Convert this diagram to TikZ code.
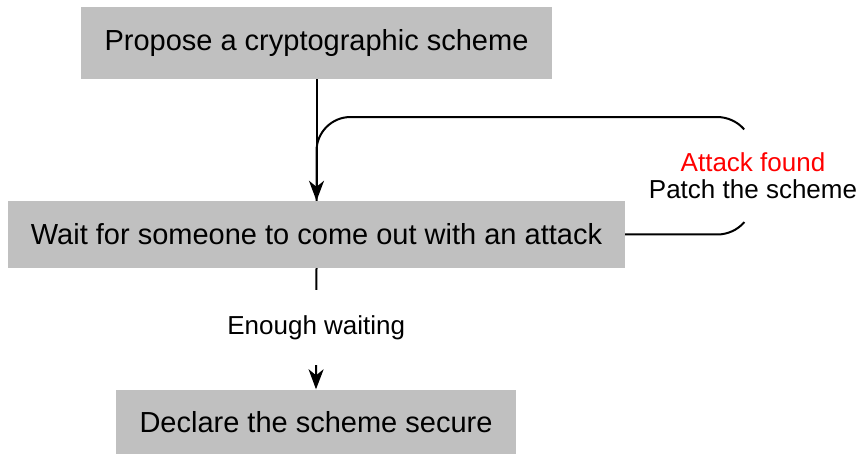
\documentclass[tikz,border=0pt]{standalone}
\usepackage{fontspec}
\setmainfont{Liberation Sans}
\usetikzlibrary{arrows.meta}
\definecolor{boxgray}{RGB}{192,192,192}
\tikzset{
  x=1pt, y=1pt,
  stepbox/.style={fill=boxgray, inner sep=0pt, text height=20.8pt,
    font=\fontsize{29pt}{34pt}\selectfont},
  edgelabel/.style={font=\fontsize{26pt}{26.6pt}\selectfont, inner sep=0pt},
  conn/.style={line width=2pt},
  arrowtip/.style={-{Stealth[length=20pt, width=15pt, inset=6pt]}}
}
\begin{document}
\begin{tikzpicture}
\useasboundingbox (0,0) rectangle (862,453);

% process steps
\node[stepbox, minimum width=471pt, minimum height=72pt, text depth=6.6pt]
  (propose) at (316.5,410) {Propose a cryptographic scheme};
\node[stepbox, minimum width=617pt, minimum height=67pt, text depth=1.6pt]
  (wait) at (316.5,218.5) {Wait for someone to come out with an attack};
\node[stepbox, minimum width=400pt, minimum height=68pt, text depth=3pt]
  (declare) at (316,29.5) {Declare the scheme secure};

% label of the feedback loop
\node[edgelabel, align=center] (patch) at (753,277.5)
  {\textcolor{red}{Attack found}\\Patch the scheme};
\coordinate (loopin) at (744.2,323.6);

% propose -> wait
\draw[conn, arrowtip] (propose.south) -- (wait.north);

% feedback loop: wait -> patch -> wait
\draw[conn] (wait.east) -- ++(92,0) arc[start angle=-90, end angle=-41, radius=36];
\draw[conn] (loopin) arc[start angle=41, end angle=90, radius=36]
  -- ++(-366.5,0) arc[start angle=90, end angle=180, radius=34] -- (wait.north);

% wait -> declare
\draw[conn, arrowtip] (wait.south) -- (declare.north)
  node[midway, edgelabel, fill=white, minimum width=200pt, minimum height=75pt,
       text height=18.6pt, text depth=5.5pt, yshift=1pt] (enough) {Enough waiting};
\end{tikzpicture}
\end{document}
